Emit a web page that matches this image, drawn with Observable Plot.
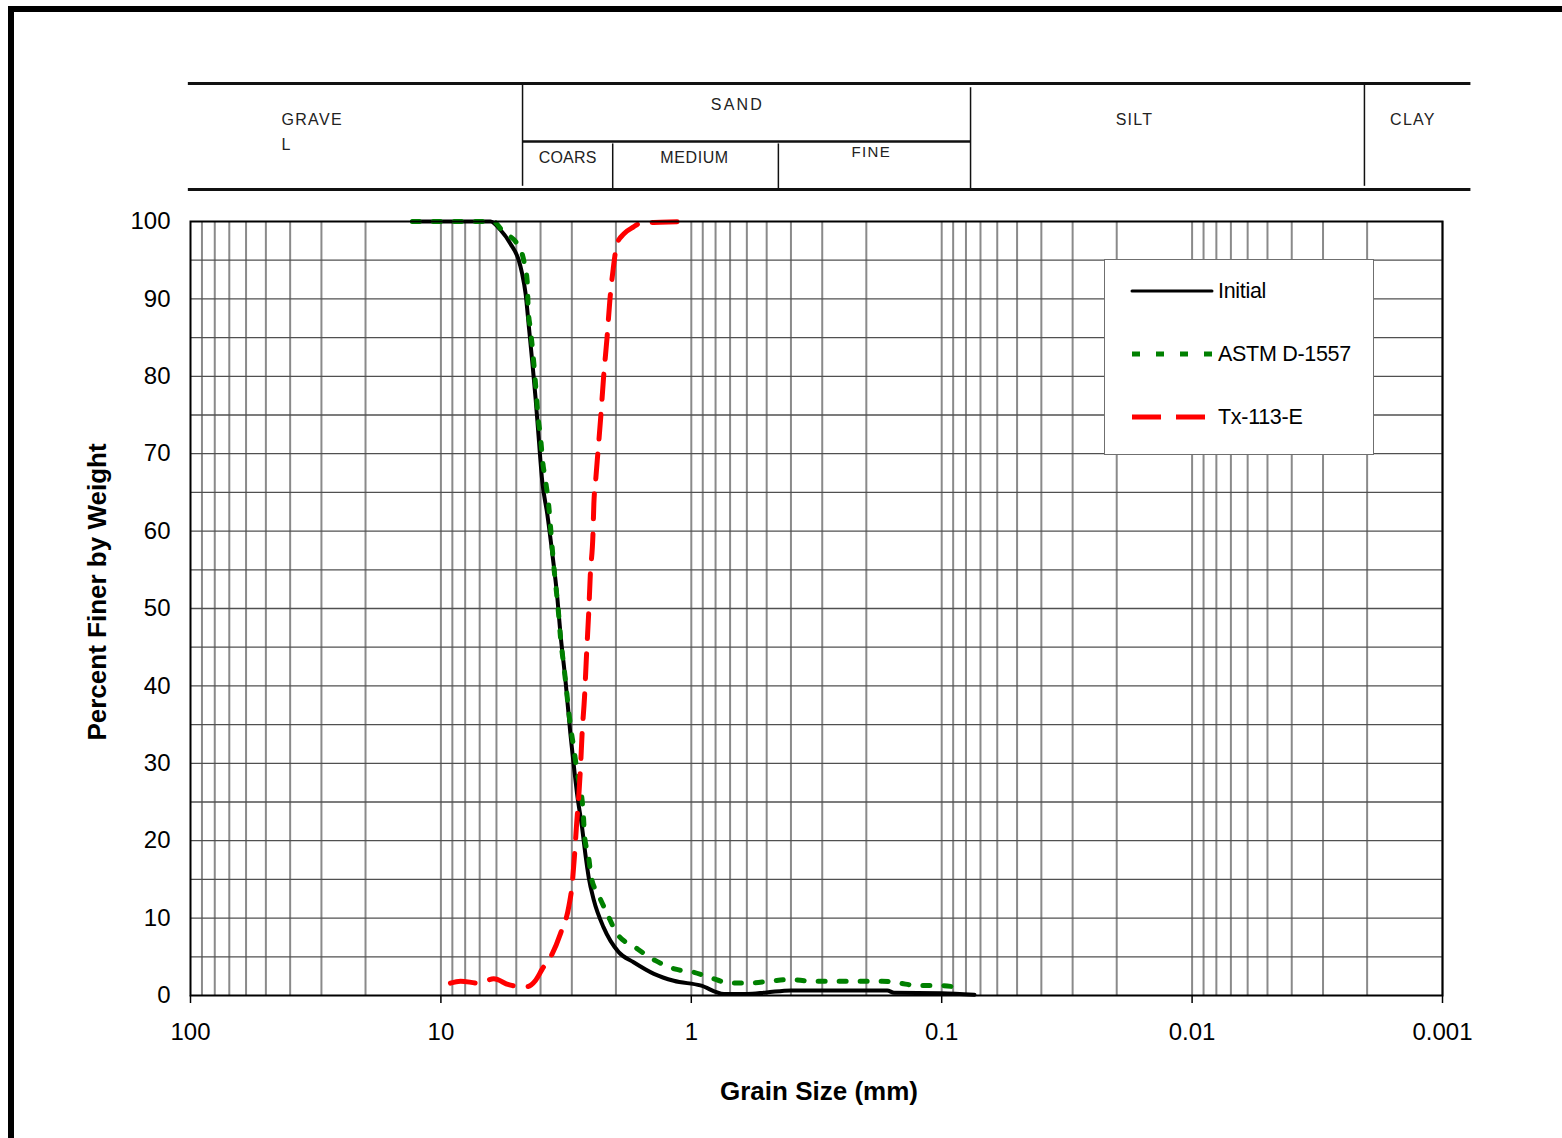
<!DOCTYPE html>
<html>
<head>
<meta charset="utf-8">
<script src="https://cdn.jsdelivr.net/npm/d3@7"></script>
<script src="https://cdn.jsdelivr.net/npm/@observablehq/plot@0.6"></script>
<style>
  body { margin: 0; background: #fff; }
  #wrap { position: relative; width: 1562px; height: 1138px; overflow: hidden; font-family: 'Liberation Sans', Arial, sans-serif; background: #fff; }
  #border { position: absolute; left: 8px; top: 6px; right: -20px; bottom: -20px; border-left: 6px solid #000; border-top: 6px solid #000; z-index: 5; pointer-events: none; }
  #header { position: absolute; left: 0; top: 0; }
  #main { position: absolute; left: 0; top: 200px; }
  .hdr text { letter-spacing: 1.3px; }
  .title { position: absolute; font-weight: bold; font-size: 26px; white-space: nowrap; line-height: 1; color: #000; }
  #legend { position: absolute; left: 1104px; top: 259px; width: 270px; height: 196px; box-sizing: border-box; border: 1px solid #6f6f6f; background: #fff; z-index: 3; }
</style>
</head>
<body>
<div id="wrap">
  <div id="header"></div>
  <div id="main"></div>
  <div class="title" id="xtitle">Grain Size (mm)</div>
  <div class="title" id="ytitle">Percent Finer by Weight</div>
  <div id="legend"></div>
  <div id="border"></div>
</div>
<script>
// ---------------- data ----------------
const initialSize = [13, 7.5, 6.34, 5.78, 5.27, 4.89, 4.74, 4.59, 4.45, 4.32, 4.19, 4.07, 3.94, 3.76, 3.59, 3.43, 3.33, 3.18, 3.04, 2.93, 2.86, 2.73, 2.65, 2.57, 2.45, 2.24, 1.95, 1.70, 1.41, 1.175, 0.92, 0.74, 0.6, 0.5, 0.4, 0.165, 0.155, 0.1, 0.074];
const initialPct  = [100, 100, 100, 98.9, 97.1, 95, 93.3, 90.7, 86.3, 82, 77.3, 72.1, 66.5, 62.2, 57.1, 51.5, 46.7, 40.7, 33.8, 29, 26.1, 21.7, 18.3, 15.3, 12.3, 8.8, 5.6, 4.3, 2.8, 1.9, 1.3, 0.2, 0.2, 0.4, 0.65, 0.65, 0.35, 0.3, 0.1];

const astmSize = [13, 7.5, 6.2, 5.61, 4.96, 4.67, 4.52, 4.48, 4.39, 4.30, 4.22, 4.16, 4.09, 4.00, 3.92, 3.82, 3.71, 3.65, 3.59, 3.52, 3.45, 3.38, 3.33, 3.25, 3.18, 3.11, 3.04, 2.95, 2.87, 2.70, 2.67, 2.57, 2.51, 2.34, 2.17, 1.98, 1.67, 1.39, 1.156, 0.977, 0.838, 0.697, 0.591, 0.483, 0.409, 0.329, 0.274, 0.2015, 0.173, 0.148, 0.125, 0.104, 0.084];
const astmPct  = [100, 100, 100, 98.6, 97.1, 95, 92.2, 88.7, 86.1, 83.3, 80.3, 77.8, 74.7, 72.1, 68.9, 66.5, 63.3, 60.6, 57.7, 54.6, 51.9, 48.9, 46.3, 43.3, 40.7, 37.7, 34.9, 32.1, 29.3, 23.5, 20.7, 17.9, 15.3, 12.9, 10.6, 8.0, 6.2, 4.5, 3.4, 3.0, 2.3, 1.6, 1.6, 1.85, 2.07, 1.85, 1.85, 1.85, 1.85, 1.6, 1.3, 1.3, 1.0];

const txSize = [9.16, 8.35, 7.06, 6.15, 5.36, 4.89, 4.52, 4.19, 3.94, 3.59, 3.33, 3.08, 2.99, 2.93, 2.87, 2.81, 2.77, 2.73, 2.67, 2.62, 2.57, 2.53, 2.47, 2.45, 2.41, 2.375, 2.30, 2.24, 2.17, 2.115, 2.05, 1.98, 1.86, 1.70, 1.595, 1.33, 1.0];
const txPct  = [1.6, 1.85, 1.6, 2.15, 1.4, 1.16, 1.16, 1.94, 3.4, 5.4, 8.0, 11.6, 14.4, 17.9, 22.2, 26.1, 29.5, 33.8, 38.5, 44.1, 49.3, 54.5, 59.6, 63.5, 66.5, 69.1, 74.7, 79.9, 85.0, 89.8, 93.9, 97.1, 98.4, 99.3, 99.8, 99.9, 100];

const seriesNames = ["Initial", "ASTM D-1557", "Tx-113-E"];
const seriesColors = ["#000000", "#008000", "#ff0000"];

const xTickValues = [100, 10, 1, 0.1, 0.01, 0.001];
const xTickLabels = ["100", "10", "1", "0.1", "0.01", "0.001"];
const yTickValues = [0, 10, 20, 30, 40, 50, 60, 70, 80, 90, 100];
const yTickLabels = ["0", "10", "20", "30", "40", "50", "60", "70", "80", "90", "100"];
const yGridValues = [5, 10, 15, 20, 25, 30, 35, 40, 45, 50, 55, 60, 65, 70, 75, 80, 85, 90, 95];

// soil classification header (boundaries as drawn, mm)
const headerSpan = [102, 0.00077];
const gravelSand = 4.72, sandSilt = 0.0767, siltClay = 0.00205;
const sandDividers = [2.06, 0.449];
const bandLabels = ["GRAVE", "L", "SAND", "COARS", "MEDIUM", "FINE", "SILT", "CLAY"];
const bandLabelSize = [43.3, 43.3, 0.654, 4.07, 1.33, 0.229, 0.0202, 0.00162];
const bandLabelRow = [0.66, 0.425, 0.80, 0.30, 0.30, 0.35, 0.66, 0.66];
const bandLabelAnchor = ["start", "start", "middle", "start", "start", "start", "start", "start"];
const bandLabelSpacing = [1.3, 1.3, 2.2, 0.2, 0.6, 1.3, 1.3, 1.3];

// ---------------- build ----------------
const FONT = "'Liberation Sans', Arial, sans-serif";
const zip = (s, p) => s.map((d, i) => ({d, p: p[i]}));
const initial = zip(initialSize, initialPct);
const astm = zip(astmSize, astmPct);
const tx = zip(txSize, txPct);

const xGrid = [];
for (const base of [10, 1, 0.1, 0.01, 0.001]) for (let k = 1; k <= 9; k++) xGrid.push(+(base * k).toPrecision(3));

const main = Plot.plot({
  width: 1562, height: 938,
  marginLeft: 190, marginRight: 120, marginTop: 21, marginBottom: 143,
  style: {fontFamily: FONT, fontSize: "24px", color: "#000", background: "transparent", overflow: "visible"},
  x: {type: "log", domain: [100, 0.001]},
  y: {domain: [0, 100]},
  marks: [
    Plot.ruleX(xGrid, {stroke: "#8a8a8a", strokeWidth: 2}),
    Plot.ruleY(yGridValues, {stroke: "#505050", strokeWidth: 1.3}),
    Plot.line(initial, {x: "d", y: "p", stroke: seriesColors[0], strokeWidth: 4, curve: "monotone-x"}),
    Plot.line(astm, {x: "d", y: "p", stroke: seriesColors[1], strokeWidth: 5, strokeDasharray: "7,14", curve: "monotone-x"}),
    Plot.line(tx, {x: "d", y: "p", stroke: seriesColors[2], strokeWidth: 5, strokeDasharray: "25,15", curve: "monotone-x"}),
    Plot.frame({stroke: "#000", strokeWidth: 2}),
    Plot.axisX(xTickValues, {tickFormat: d => xTickLabels[xTickValues.indexOf(d)], tickSize: 8, tickPadding: 19, label: null, stroke: "#000", strokeWidth: 1.5}),
    Plot.axisY(yTickValues, {tickFormat: d => yTickLabels[yTickValues.indexOf(d)], tickSize: 0, tickPadding: 20, label: null})
  ]
});
document.getElementById("main").appendChild(main);

const labelsData = bandLabels.map((t, i) => ({t, d: bandLabelSize[i], y: bandLabelRow[i], a: bandLabelAnchor[i], s: bandLabelSpacing[i]}));
const header = Plot.plot({
  width: 1562, height: 200,
  marginLeft: 190, marginRight: 120, marginTop: 83, marginBottom: 11,
  className: "hdr",
  style: {fontFamily: FONT, fontSize: "16px", color: "#222", background: "transparent", overflow: "visible"},
  x: {type: "log", domain: [100, 0.001], axis: null},
  y: {domain: [0, 1], axis: null},
  marks: [
    Plot.ruleY([0, 1], {x1: headerSpan[0], x2: headerSpan[1], stroke: "#111", strokeWidth: 3}),
    Plot.ruleY([0.453], {x1: gravelSand, x2: sandSilt, stroke: "#111", strokeWidth: 2.5}),
    Plot.ruleX([gravelSand], {y1: 0.03, y2: 1, stroke: "#111", strokeWidth: 1.5}),
    Plot.ruleX([sandSilt], {y1: 0, y2: 0.96, stroke: "#111", strokeWidth: 1.5}),
    Plot.ruleX([siltClay], {y1: 0.03, y2: 1, stroke: "#111", strokeWidth: 1.5}),
    Plot.ruleX(sandDividers, {y1: 0, y2: 0.43, stroke: "#111", strokeWidth: 1.5}),
    Plot.text(labelsData.filter(d => d.a === "start"), {x: "d", y: "y", text: "t", textAnchor: "start", lineAnchor: "middle", fill: "#222"}),
    Plot.text(labelsData.filter(d => d.a === "middle"), {x: "d", y: "y", text: "t", textAnchor: "middle", lineAnchor: "middle", fill: "#222"})
  ]
});
document.getElementById("header").appendChild(header);
d3.select(header).selectAll("text").each(function() {
  const item = labelsData.find(d => d.t === this.textContent);
  if (item) d3.select(this).style("letter-spacing", item.s + "px");
  if (this.textContent === "FINE") d3.select(this).attr("font-size", 15);
});

// axis titles
const xt = document.getElementById("xtitle");
xt.style.left = "819px"; xt.style.top = "1078px"; xt.style.transform = "translateX(-50%)";
const yt = document.getElementById("ytitle");
yt.style.left = "97px"; yt.style.top = "592px"; yt.style.transform = "translate(-50%,-50%) rotate(-90deg)";

// legend
const legendDash = [null, "8,16", "29,15"];
const legendWidth = [3, 5, 5];
const lg = d3.select("#legend").append("svg").attr("width", 268).attr("height", 194);
seriesNames.forEach((name, i) => {
  const yy = 31 + i * 63;
  lg.append("line").attr("x1", 27).attr("x2", i === 2 ? 100 : 107).attr("y1", yy).attr("y2", yy)
    .attr("stroke", seriesColors[i]).attr("stroke-width", legendWidth[i])
    .attr("stroke-linecap", i === 0 ? "round" : "butt")
    .attr("stroke-dasharray", legendDash[i]);
  lg.append("text").attr("x", 113).attr("y", yy + 7).attr("font-family", FONT).attr("font-size", 21.5)
    .attr("letter-spacing", "-0.3px").attr("fill", "#000").text(name);
});
</script>
</body>
</html>
